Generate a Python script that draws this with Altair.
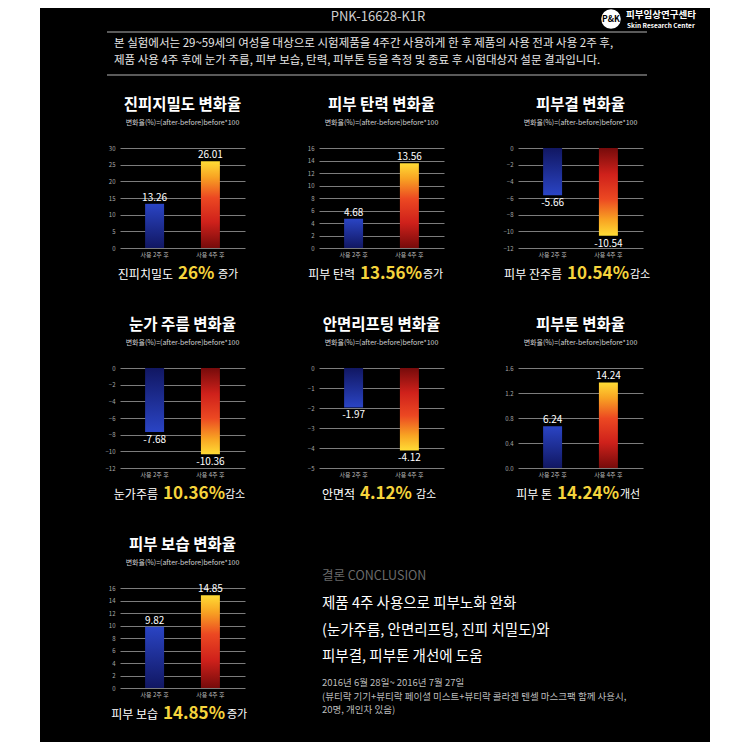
import altair as alt
import pandas as pd

FONT = "Noto Sans CJK KR"

# ---------------- data ----------------
categories = ["사용 2주 후", "사용 4주 후"]

panel_titles = ["진피지밀도 변화율", "피부 탄력 변화율", "피부결 변화율",
                "눈가 주름 변화율", "안면리프팅 변화율", "피부톤 변화율",
                "피부 보습 변화율"]
subtitle_text = "변화율(%)=(after-before)before*100"

density = [13.26, 26.01]
elasticity = [4.68, 13.56]
texture = [-5.66, -10.54]
eye_wrinkle = [-7.68, -10.36]
lifting = [-1.97, -4.12]
tone_bar_heights = [0.67, 1.37]
tone_labels = ["6.24", "14.24"]
moisture = [9.82, 14.85]

ticks_density = [0, 5, 10, 15, 20, 25, 30]
ticks_elasticity = [0, 2, 4, 6, 8, 10, 12, 14, 16]
ticks_texture = [-12, -10, -8, -6, -4, -2, 0]
ticks_eye = [-12, -10, -8, -6, -4, -2, 0]
ticks_lifting = [-5, -4, -3, -2, -1, 0]
ticks_tone = [0.0, 0.4, 0.8, 1.2, 1.6]
ticks_moisture = [0, 2, 4, 6, 8, 10, 12, 14, 16]

caption_prefix = ["진피치밀도", "피부 탄력", "피부 잔주름", "눈가주름", "안면적", "피부 톤", "피부 보습"]
caption_number = ["26%", "13.56%", "10.54%", "10.36%", "4.12%", "14.24%", "14.85%"]
caption_suffix = ["증가", "증가", "감소", "감소", "감소", "개선", "증가"]

header_title = "PNK-16628-K1R"
logo_mark = "P&K"
logo_name = "피부임상연구센타"
logo_sub = "Skin Research Center"
intro_lines = [
    "본 실험에서는 29~59세의 여성을 대상으로 시험제품을 4주간 사용하게 한 후 제품의 사용 전과 사용 2주 후,",
    "제품 사용 4주 후에 눈가 주름, 피부 보습, 탄력, 피부톤 등을 측정 및 종료 후 시험대상자 설문 결과입니다.",
]
conclusion_label = "결론 CONCLUSION"
conclusion_lines = ["제품 4주 사용으로 피부노화 완화",
                    "(눈가주름, 안면리프팅, 진피 치밀도)와",
                    "피부결, 피부톤 개선에 도움"]
note_lines = ["2016년 6월 28일~ 2016년 7월 27일",
              "(뷰티락 기기+뷰티락 페이셜 미스트+뷰티락 콜라겐 텐셀 마스크팩 함께 사용시,",
              "20명, 개인차 있음)"]

# ---------------- layout / style ----------------
PW, PH = 125, 100
COL_GAP, ROW_GAP = 74, 120
num_left = [58, 41, 49, 43, 41, 39, 43]
suf_left = [98, 104, 112, 105, 97, 102, 107]


def grad(stops, flip):
    if flip:
        stops = [(1 - o, c) for o, c in reversed(stops)]
    return alt.LinearGradient(
        gradient="linear", x1=0, x2=0, y1=0, y2=1,
        stops=[alt.GradientStop(offset=o, color=c) for o, c in stops])


RED_STOPS = [(0, "#ffdc35"), (0.18, "#f8a423"), (0.42, "#ec4822"), (0.7, "#cf211b"), (1, "#760b0b")]
BLUE_STOPS = [(0, "#2a44c4"), (1, "#111762")]


def txt(text, x, y, size, color="white", weight="normal", align="left", baseline="middle"):
    return alt.Chart(pd.DataFrame({"t": [text]})).mark_text(
        align=align, baseline=baseline, fontSize=size, fontWeight=weight,
        color=color, font=FONT).encode(text="t:N", x=alt.value(x), y=alt.value(y))


def panel(i, values, labels, ticks, fmt, extras=()):
    neg = values[0] < 0
    df = pd.DataFrame({"cat": categories, "v": values, "lab": labels})
    x = alt.X("cat:N", sort=categories,
              scale=alt.Scale(paddingInner=0.66, paddingOuter=0.45),
              axis=alt.Axis(title=None, labelAngle=0, labelFontSize=6, labelColor="#bdbdbd",
                            labelPadding=3, domain=False, ticks=False, labelFont=FONT))
    y = alt.Y("v:Q", scale=alt.Scale(domain=[min(ticks), max(ticks)], nice=False, zero=True),
              axis=alt.Axis(title=None, values=ticks, format=fmt, labelFontSize=6,
                            labelColor="#a8a8a8", labelPadding=5, domain=False, ticks=False,
                            grid=True, gridColor="#7c7c7c", gridWidth=1, labelFont=FONT))
    base = alt.Chart(df).encode(x=x, y=y)
    blue = base.transform_filter(alt.datum.cat == categories[0]).mark_bar(
        color=grad(BLUE_STOPS, neg))
    red = base.transform_filter(alt.datum.cat == categories[1]).mark_bar(
        color=grad(RED_STOPS, neg))
    lab = base.mark_text(baseline="top" if neg else "bottom", dy=3 if neg else -1,
                         color="white", fontSize=10, font=FONT).encode(text="lab:N")
    layers = [blue, red, lab,
              txt(panel_titles[i], PW / 2, -43, 15.5, weight="bold", align="center"),
              txt(subtitle_text, PW / 2, -25, 7, color="#d0d0d0", align="center"),
              txt(caption_prefix[i], num_left[i] - 5, 127, 12, align="right"),
              txt(caption_number[i], num_left[i], 126, 17, color="#f6d43c", weight="bold"),
              txt(caption_suffix[i], suf_left[i], 127, 11)]
    layers += list(extras)
    return alt.layer(*layers).properties(width=PW, height=PH)


def fmt_labels(vals):
    return [f"{v:.2f}" for v in vals]


# header, drawn in coordinates of panel 1 (page origin 120,148)
rule_df = pd.DataFrame({"k": [0]})
header = [
    txt(header_title, 258, -137, 13, color="#cfcfcf", align="center", baseline="top"),
    alt.Chart(rule_df).mark_rule(color="#5a5a5a", strokeWidth=2).encode(
        x=alt.value(-13), x2=alt.value(527), y=alt.value(-116)),
    alt.Chart(rule_df).mark_rule(color="#5a5a5a", strokeWidth=2).encode(
        x=alt.value(-13), x2=alt.value(527), y=alt.value(-73)),
    txt(intro_lines[0], -6, -104, 11.5, color="#e6e6e6"),
    txt(intro_lines[1], -6, -87, 11.5, color="#e6e6e6"),
    alt.Chart(rule_df).mark_circle(size=380, color="white", opacity=1).encode(
        x=alt.value(491), y=alt.value(-129)),
    txt(logo_mark, 491, -129, 8.5, color="black", weight="bold", align="center"),
    txt(logo_name, 506, -133, 9.5, weight="bold"),
    txt(logo_sub, 507, -122, 6.5, weight="bold"),
]

p1 = panel(0, density, fmt_labels(density), ticks_density, "d", header)
p2 = panel(1, elasticity, fmt_labels(elasticity), ticks_elasticity, "d")
p3 = panel(2, texture, fmt_labels(texture), ticks_texture, "d")
p4 = panel(3, eye_wrinkle, fmt_labels(eye_wrinkle), ticks_eye, "d")
p5 = panel(4, lifting, fmt_labels(lifting), ticks_lifting, "d")
p6 = panel(5, tone_bar_heights, tone_labels, ticks_tone, ".1f")
p7 = panel(6, moisture, fmt_labels(moisture), ticks_moisture, "d")

# conclusion panel (page origin 319,588)
white_df = pd.DataFrame({"k": [0]})
concl_layers = [
    txt(conclusion_label, 3, -12, 12.5, color="#6b6b6b"),
    txt(conclusion_lines[0], 3, 16, 14.5),
    txt(conclusion_lines[1], 3, 43, 14.5),
    txt(conclusion_lines[2], 3, 69, 14.5),
    txt(note_lines[0], 3, 95, 9.5, color="#bdbdbd"),
    txt(note_lines[1], 3, 109, 9.5, color="#bdbdbd"),
    txt(note_lines[2], 3, 122, 9.5, color="#bdbdbd"),
    alt.Chart(white_df).mark_rect(color="white").encode(
        x=alt.value(-311), x2=alt.value(-279), y=alt.value(-580), y2=alt.value(154)),
    alt.Chart(white_df).mark_rect(color="white").encode(
        x=alt.value(391), x2=alt.value(423), y=alt.value(-580), y2=alt.value(154)),
]
concl = alt.layer(*concl_layers).properties(width=PW, height=PH)

chart = alt.concat(p1, p2, p3, p4, p5, p6, p7, concl, columns=3,
                   spacing={"row": ROW_GAP, "column": COL_GAP},
                   bounds="flush", align="all").properties(
    background="black", padding=0
).configure_view(stroke=None)

chart.save("out.html", embed_options={"renderer": "svg", "actions": False})
